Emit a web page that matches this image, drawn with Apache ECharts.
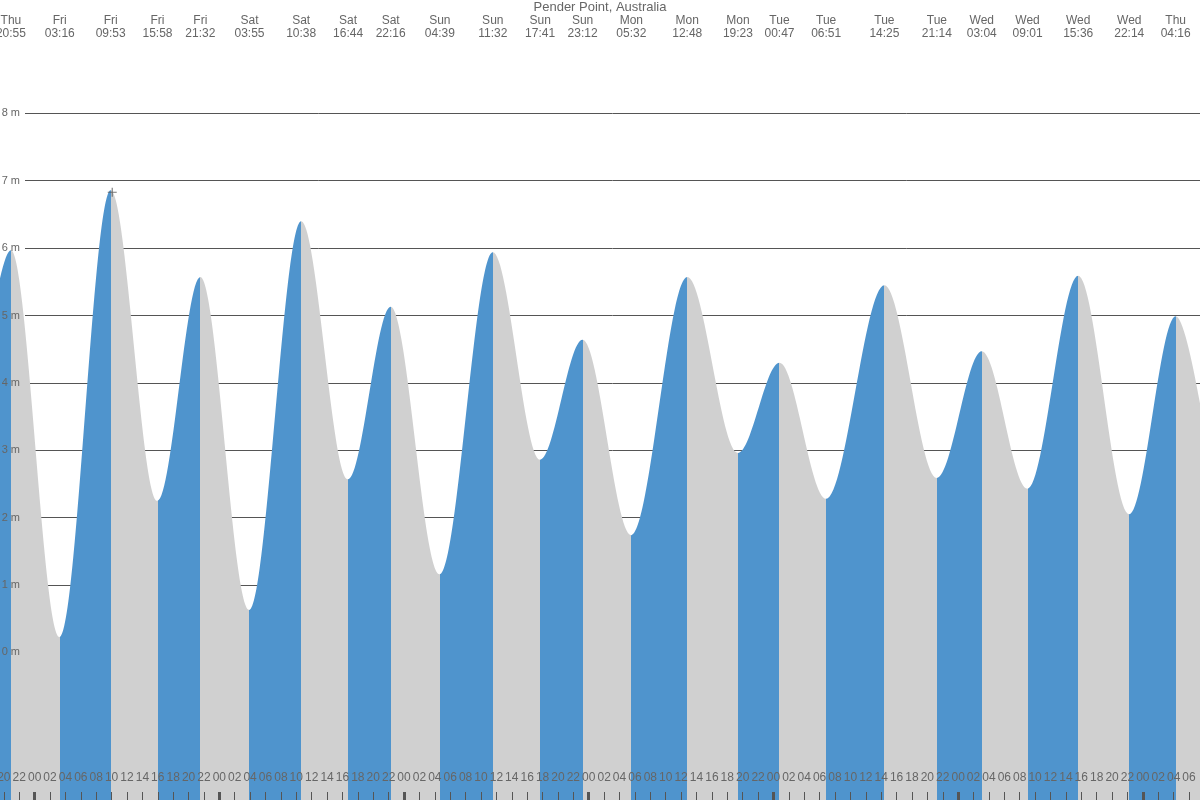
<!DOCTYPE html>
<html><head><meta charset="utf-8">
<script src="https://cdn.jsdelivr.net/npm/echarts@6/dist/echarts.min.js"></script>
<style>html,body{margin:0;padding:0;background:#fff}#c{width:1200px;height:800px}</style>
</head><body><div id="c"></div>
<script>
// ---------- data ----------
const TITLE = 'Pender Point, Australia';
// turning points (high / low tide)
const EXTREMA_DAY = ['Thu','Fri','Fri','Fri','Fri','Sat','Sat','Sat','Sat','Sun','Sun','Sun','Sun','Mon','Mon','Mon','Tue','Tue','Tue','Tue','Wed','Wed','Wed','Wed','Thu'];
const EXTREMA_TIME = ['20:55','03:16','09:53','15:58','21:32','03:55','10:38','16:44','22:16','04:39','11:32','17:41','23:12','05:32','12:48','19:23','00:47','06:51','14:25','21:14','03:04','09:01','15:36','22:14','04:16'];
const EXTREMA_HEIGHT = [5.97,0.23,6.86,2.25,5.57,0.63,6.40,2.57,5.13,1.16,5.94,2.86,4.64,1.74,5.57,2.96,4.30,2.28,5.45,2.59,4.47,2.43,5.59,2.05,4.99];
// turning points just outside the visible window (estimated from the curve at the edges)
const EDGE_DAY_OFFSET = [-1, 6];
const EDGE_TIME = ['14:50', '10:20'];
const EDGE_HEIGHT = [1.9, 1.55];
// "now" marker
const NOW_DAY_OFFSET = 0, NOW_TIME = '10:05', NOW_HEIGHT = 6.83;
// y tick labels (metres)
const Y_TICKS = [0,1,2,3,4,5,6,7,8];

// ---------- layout / style ----------
const VIEW_START = -4.5;            // hours relative to Fri 00:00
const PX_PER_HOUR = 7.696;
const VIEW_END = VIEW_START + 1200 / PX_PER_HOUR;
const Y0_PX = 652.4, PX_PER_M = 67.38;
const GRID_B_TOP = Y0_PX - 8 * PX_PER_M;
const GRID_B_BOTTOM = 800 - (Y0_PX + 2 * PX_PER_M);
const Y_MIN = -2 - GRID_B_BOTTOM / PX_PER_M;
const Y_MAX = 8 + GRID_B_TOP / PX_PER_M;
const BLUE = '#4f94cd', GREY = '#d0d0d0', TEXT = '#666', LINE = '#555';
const FONT = "'Liberation Sans', Arial, sans-serif";

function toHours(dayOffset, hhmm) { const p = hhmm.split(':').map(Number); return dayOffset * 24 + p[0] + p[1] / 60; }
const dayOffsets = []; let off = -1;
EXTREMA_DAY.forEach((d, i) => { if (i > 0 && d !== EXTREMA_DAY[i - 1]) off++; dayOffsets.push(off); });
const extremaX = EXTREMA_TIME.map((t, i) => toHours(dayOffsets[i], t));
const points = [[toHours(EDGE_DAY_OFFSET[0], EDGE_TIME[0]), EDGE_HEIGHT[0]]]
  .concat(extremaX.map((x, i) => [x, EXTREMA_HEIGHT[i]]))
  .concat([[toHours(EDGE_DAY_OFFSET[1], EDGE_TIME[1]), EDGE_HEIGHT[1]]]);
const pieces = [];
for (let i = 0; i < points.length - 1; i++) {
  pieces.push({ gte: points[i][0], lt: points[i + 1][0], color: points[i + 1][1] > points[i][1] ? BLUE : GREY });
}
const hourTicks = []; for (let h = Math.ceil(VIEW_START / 2) * 2; h <= VIEW_END; h += 2) hourTicks.push(h);
const dayTicks = []; for (let h = Math.ceil(VIEW_START / 24) * 24; h <= VIEW_END; h += 24) dayTicks.push(h);
const pad = n => (n < 10 ? '0' : '') + n;

const chart = echarts.init(document.getElementById('c'));
chart.setOption({
  animation: false,
  backgroundColor: '#fff',
  title: { text: TITLE, left: 'center', top: 0, padding: [1, 0, 0, 0],
    textStyle: { fontSize: 13, fontWeight: 'normal', color: TEXT, fontFamily: FONT } },
  grid: [
    { left: 0, right: 0, top: 0, bottom: 0, containLabel: false, outerBoundsMode: 'none' },
    { left: 25, right: 0, top: GRID_B_TOP, bottom: GRID_B_BOTTOM, containLabel: false, outerBoundsMode: 'none' }
  ],
  visualMap: { show: false, type: 'piecewise', dimension: 0, seriesIndex: 0, pieces: pieces },
  xAxis: [
    { type: 'value', gridIndex: 0, min: VIEW_START, max: VIEW_END, position: 'bottom', z: 5,
      axisLine: { show: false, onZero: false }, splitLine: { show: false },
      axisTick: { show: true, inside: true, length: 8, customValues: hourTicks, lineStyle: { color: LINE, width: 1 } },
      axisLabel: { show: true, inside: true, margin: 16, customValues: hourTicks, fontSize: 12, color: TEXT, fontFamily: FONT,
        formatter: v => pad(((Math.round(v) % 24) + 24) % 24) } },
    { type: 'value', gridIndex: 0, min: VIEW_START, max: VIEW_END, position: 'bottom', z: 6,
      axisLine: { show: false, onZero: false }, splitLine: { show: false }, axisLabel: { show: false },
      axisTick: { show: true, inside: true, length: 8, customValues: dayTicks, lineStyle: { color: LINE, width: 3 } } },
    { type: 'value', gridIndex: 0, min: VIEW_START, max: VIEW_END, position: 'top', z: 5,
      axisLine: { show: false, onZero: false }, splitLine: { show: false }, axisTick: { show: false },
      axisLabel: { show: true, inside: true, margin: 14, customValues: extremaX, fontSize: 12, lineHeight: 13, color: TEXT, fontFamily: FONT,
        formatter: v => { const i = extremaX.findIndex(x => Math.abs(x - v) < 1e-4); return i < 0 ? '' : EXTREMA_DAY[i] + '\n' + EXTREMA_TIME[i]; } } },
    { type: 'value', gridIndex: 1, min: VIEW_START, max: VIEW_END, show: false, axisLine: { onZero: false } }
  ],
  yAxis: [
    { type: 'value', gridIndex: 0, min: Y_MIN, max: Y_MAX, show: false, splitLine: { show: false } },
    { type: 'value', gridIndex: 1, min: -2, max: 8, interval: 1, position: 'left', z: 0,
      axisLine: { show: false, onZero: false }, axisTick: { show: false }, axisLabel: { show: false },
      splitLine: { show: true, lineStyle: { color: LINE, width: 1 } } },
    { type: 'value', gridIndex: 1, min: -2, max: 8, interval: 1, position: 'left', z: 6,
      axisLine: { show: false, onZero: false }, axisTick: { show: false }, splitLine: { show: false },
      axisLabel: { show: true, margin: 5, fontSize: 11, color: TEXT, fontFamily: FONT,
        formatter: v => (Y_TICKS.indexOf(v) >= 0 ? v + ' m' : '') } }
  ],
  series: [
    { type: 'line', xAxisIndex: 0, yAxisIndex: 0, data: points, smooth: 0.34, smoothMonotone: 'x',
      showSymbol: false, symbol: 'none', lineStyle: { width: 0, opacity: 0 },
      areaStyle: { opacity: 1, origin: 'start' }, z: 2 },
    { type: 'scatter', xAxisIndex: 0, yAxisIndex: 0, z: 4, silent: true,
      data: [[toHours(NOW_DAY_OFFSET, NOW_TIME), NOW_HEIGHT]],
      symbol: 'path://M3.5,0H4.5V3.5H8V4.5H4.5V8H3.5V4.5H0V3.5H3.5Z', symbolSize: 9,
      itemStyle: { color: '#555' } }
  ]
});
</script></body></html>
